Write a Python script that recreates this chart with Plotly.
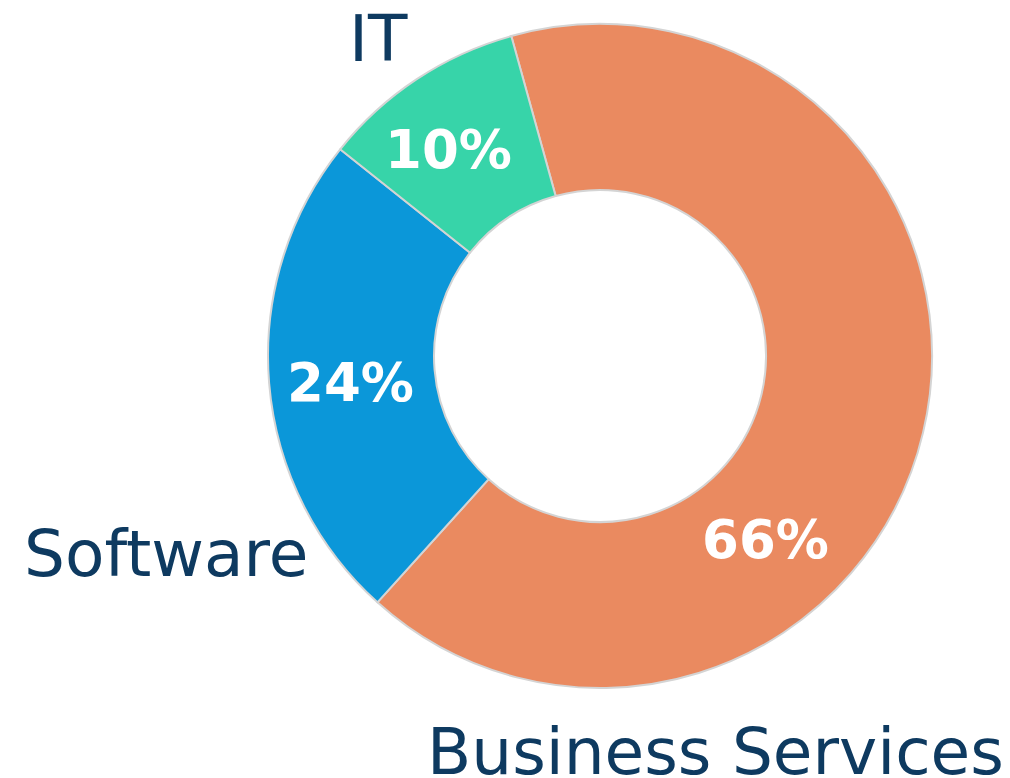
import plotly.graph_objects as go

labels = ["Business Services", "Software", "IT"]
values = [66, 24, 10]
colors = ["#EA8A60", "#0B97D9", "#37D4A9"]

# pixel centres (page coordinates) of the outside labels and percentages
label_pos = {"Business Services": (715, 751), "Software": (166, 553), "IT": (378, 39)}
pct_pos = {"Business Services": (765, 539), "Software": (350, 382), "IT": (448, 149)}

# the page body adds an 8px margin, so the figure is drawn 8px in
PAGE = 8
W, H = 1010 - PAGE, 778 - PAGE
L, T = 268 - PAGE, 24 - PAGE
side = 664
R, B = W - L - side, H - T - side


def to_paper(px, py):
    return (px - PAGE - L) / side, (H - B - (py - PAGE)) / side


total = sum(values)
annotations = []
for lab, val in zip(labels, values):
    x, y = to_paper(*label_pos[lab])
    annotations.append(
        dict(
            x=x, y=y, xref="paper", yref="paper", text=lab, showarrow=False,
            xanchor="center", yanchor="middle",
            font=dict(family="Verdana, DejaVu Sans", size=64.5, color="#0E3A60"),
        )
    )
    x, y = to_paper(*pct_pos[lab])
    annotations.append(
        dict(
            x=x, y=y, xref="paper", yref="paper",
            text="<b>%d%%</b>" % round(100 * val / total), showarrow=False,
            xanchor="center", yanchor="middle",
            font=dict(family="Verdana, DejaVu Sans", size=53, color="white"),
        )
    )

fig = go.Figure(
    go.Pie(
        labels=labels,
        values=values,
        hole=0.5,
        sort=False,
        direction="clockwise",
        rotation=-15.5,
        textinfo="none",
        marker=dict(colors=colors, line=dict(color="#D4D4D4", width=2)),
        showlegend=False,
    )
)

fig.update_layout(
    width=W,
    height=H,
    margin=dict(l=L, r=R, t=T, b=B),
    paper_bgcolor="white",
    plot_bgcolor="rgba(0,0,0,0)",
    annotations=annotations,
)

fig.write_html("out.html")
